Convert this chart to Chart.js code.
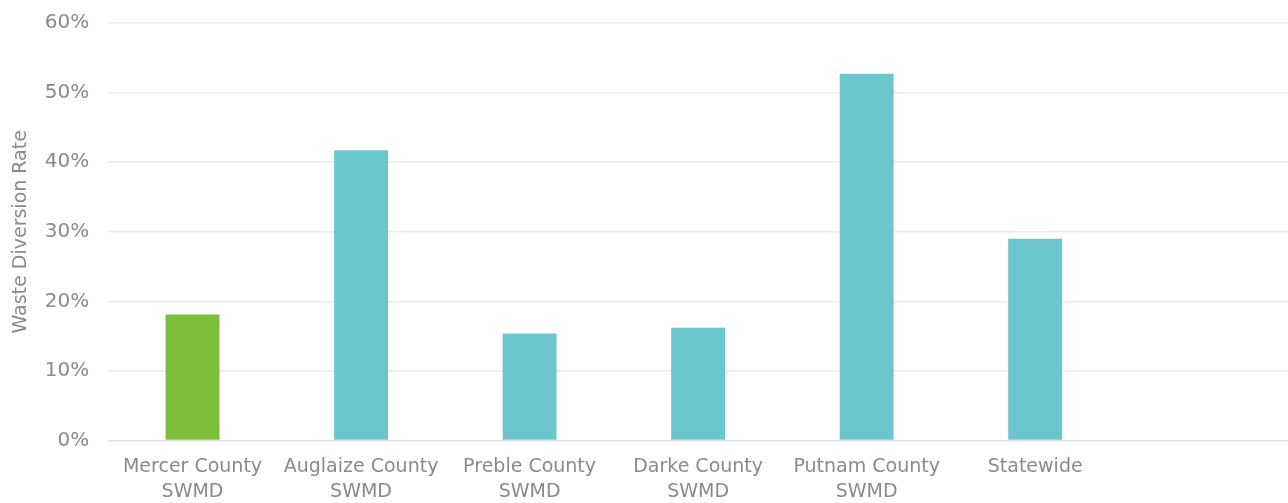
<!DOCTYPE html>
<html>
<head>
<meta charset="utf-8">
<script src="https://cdn.jsdelivr.net/npm/chart.js@4/dist/chart.umd.min.js"></script>
<style>
    html, body { margin: 0; padding: 0; background: #fff; overflow: hidden; height: 503px; }
    /* the original crop cuts off the bottom of the axis labels, so the canvas runs past the window */
    #wrap { position: relative; top: -8px; width: 1288px; height: 526px; }
</style>
</head>
<body>
<div id="wrap"><canvas id="chart"></canvas></div>
<script>
// Waste diversion rate by district (last slot is empty in the original)
const categories = [
    ['Mercer County', 'SWMD'],
    ['Auglaize County', 'SWMD'],
    ['Preble County', 'SWMD'],
    ['Darke County', 'SWMD'],
    ['Putnam County', 'SWMD'],
    'Statewide',
    ''
];
const diversionRates = [18.1, 41.7, 15.4, 16.2, 52.7, 29.0, null];
const barColors = ['#7dbf3b', '#6cc6cd', '#6cc6cd', '#6cc6cd', '#6cc6cd', '#6cc6cd', '#6cc6cd'];

const fontFamily = '"DejaVu Sans", "Lato", sans-serif';
const textGray = '#8a8a8a';

new Chart(document.getElementById('chart'), {
    type: 'bar',
    data: {
        labels: categories,
        datasets: [{
            label: 'Waste Diversion Rate',
            data: diversionRates,
            backgroundColor: barColors,
            borderWidth: 0,
            barPercentage: 0.32,
            categoryPercentage: 1.0
        }]
    },
    options: {
        responsive: true,
        maintainAspectRatio: false,
        animation: false,
        layout: {
            padding: { top: 0, right: 0, bottom: 0, left: 10 }
        },
        plugins: {
            legend: { display: false },
            tooltip: { enabled: false }
        },
        scales: {
            x: {
                grid: { display: false, drawTicks: false },
                border: { display: true, color: '#e3e3e3', width: 1.5 },
                ticks: {
                    color: textGray,
                    font: { family: fontFamily, size: 19, lineHeight: 1.3 },
                    padding: 14,
                    maxRotation: 0,
                    autoSkip: false
                }
            },
            y: {
                min: 0,
                max: 60,
                ticks: {
                    stepSize: 10,
                    color: textGray,
                    font: { family: fontFamily, size: 20 },
                    padding: 19,
                    callback: v => v + '%'
                },
                grid: { color: '#ececec', lineWidth: 1.5, drawTicks: false },
                border: { display: false },
                title: {
                    display: true,
                    text: 'Waste Diversion Rate',
                    color: textGray,
                    font: { family: fontFamily, size: 19 },
                    // tick padding is counted twice by the axis, so pull the title back in
                    padding: { top: 0, bottom: -7 }
                }
            }
        }
    }
});
</script>
</body>
</html>
